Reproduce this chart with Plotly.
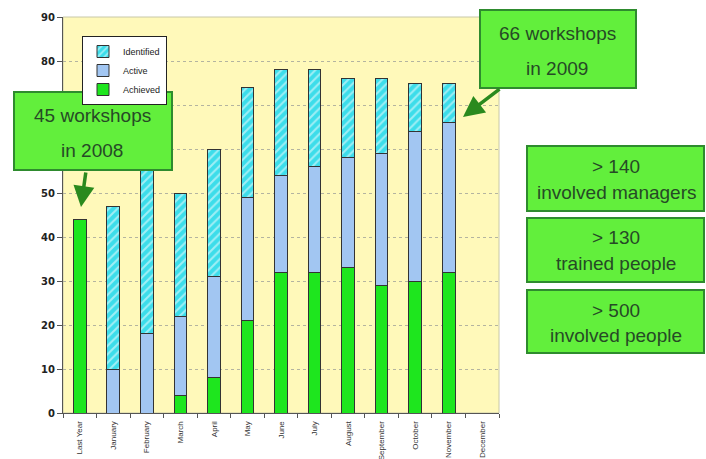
import plotly.graph_objects as go

categories = ["Last Year", "January", "February", "March", "April", "May", "June",
              "July", "August", "September", "October", "November", "December"]
achieved = [44, 0, 0, 4, 8, 21, 32, 32, 33, 29, 30, 32, 0]
active = [0, 10, 18, 18, 23, 28, 22, 24, 25, 30, 34, 34, 0]
identified = [0, 37, 46, 28, 29, 25, 24, 22, 18, 17, 11, 9, 0]
y_ticks = [0, 10, 20, 30, 40, 50, 60, 70, 80, 90]
y_ticktext = ["0", "10", "20", "30", "40", "50", "", "", "80", "90"]  # 60/70 hidden behind box

W, H = 706, 459
L, R, T, B = 63, 499, 17, 413


def px(x):
    return (x - L) / (R - L)


def py(y):
    return (B - y) / (B - T)


fig = go.Figure()
line = dict(color="#333333", width=1)
fig.add_trace(go.Bar(x=categories, y=achieved, name="Achieved", width=0.38,
                     marker=dict(color="#1EE61E", line=line)))
fig.add_trace(go.Bar(x=categories, y=active, name="Active", width=0.38,
                     marker=dict(color="#A2C6F2", line=line)))
fig.add_trace(go.Bar(x=categories, y=identified, name="Identified", width=0.38,
                     marker=dict(color="#3CDDEA", line=line,
                                 pattern=dict(shape="/", fgcolor="white", size=6, solidity=0.35))))

shapes = []
shapes.append(dict(type="rect", xref="paper", yref="paper", x0=0, x1=1, y0=0, y1=1,
                   line=dict(color="#C8C8A8", width=1), layer="below"))

box_fill = "#62EF3C"
box_line = "#2E8B2E"
text_col = "#264A26"
boxes = [(14, 172, 92, 170), (480, 636, 10, 88),
         (527, 704, 146, 211), (527, 704, 218, 282), (527, 704, 290, 353)]
for x0, x1, y0, y1 in boxes:
    shapes.append(dict(type="rect", xref="paper", yref="paper",
                       x0=px(x0), x1=px(x1), y0=py(y1), y1=py(y0),
                       fillcolor=box_fill, line=dict(color=box_line, width=2), layer="above"))

texts = [("45 workshops", 92, 115), ("in 2008", 92, 150),
         ("66 workshops", 557, 33), ("in 2009", 557, 69),
         ("> 140", 616, 166), ("involved managers", 616, 192),
         ("> 130", 616, 237), ("trained people", 616, 263),
         ("> 500", 616, 310), ("involved people", 616, 335)]
annotations = []
for t, x, y in texts:
    annotations.append(dict(text=t, xref="paper", yref="paper", x=px(x), y=py(y),
                            xanchor="center", yanchor="middle", showarrow=False,
                            font=dict(family="Liberation Sans, Arial", size=19, color=text_col)))

arrow_col = "#2A8A1E"
annotations.append(dict(text="", xref="paper", yref="paper", x=px(81), y=py(207),
                        ax=5, ay=-36, showarrow=True, arrowhead=2, arrowsize=1.2,
                        arrowwidth=3.5, arrowcolor=arrow_col))
annotations.append(dict(text="", xref="paper", yref="paper", x=px(463), y=py(117),
                        ax=38, ay=-29, showarrow=True, arrowhead=2, arrowsize=1.2,
                        arrowwidth=3.5, arrowcolor=arrow_col))

fig.update_layout(
    width=W, height=H,
    margin=dict(l=L, r=W - R, t=T, b=H - B, pad=0, autoexpand=False),
    barmode="stack",
    paper_bgcolor="white",
    plot_bgcolor="#FFF9BA",
    showlegend=True,
    legend=dict(x=px(82), y=py(36), xanchor="left", yanchor="top",
                bgcolor="white", bordercolor="#222222", borderwidth=1,
                traceorder="reversed", font=dict(family="Liberation Sans, Arial", size=9, color="#222"),
                itemwidth=30, tracegroupgap=0),
    shapes=shapes,
    annotations=annotations,
    bargap=0.5,
)
fig.update_xaxes(type="category", tickangle=-90, ticks="outside", tickson="boundaries",
                 ticklen=4, tickcolor="#555", showline=True, linecolor="#555", linewidth=1,
                 tickfont=dict(family="Liberation Sans, Arial", size=8, color="#333"),
                 ticklabelstandoff=4, showgrid=False, automargin=False)
fig.update_yaxes(range=[0, 90], tickvals=y_ticks, ticktext=y_ticktext, ticks="outside",
                 ticklen=5, tickcolor="#555",
                 showline=True, linecolor="#555", linewidth=1,
                 showgrid=True, gridcolor="#B4B4A0", griddash="dot", gridwidth=1,
                 tickfont=dict(family="DejaVu Sans", size=10, color="#222", weight="bold"),
                 zeroline=False, automargin=False)

fig.write_html("out.html")
